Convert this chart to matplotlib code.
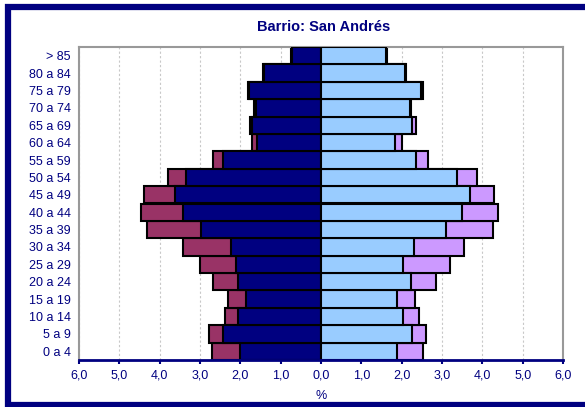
import matplotlib.pyplot as plt
import numpy as np
from matplotlib.lines import Line2D

plt.rcParams['font.family'] = ['Liberation Sans', 'DejaVu Sans']

# age groups, bottom to top
ages = ['0 a 4', '5 a 9', '10 a 14', '15 a 19', '20 a 24', '25 a 29', '30 a 34',
        '35 a 39', '40 a 44', '45 a 49', '50 a 54', '55 a 59', '60 a 64',
        '65 a 69', '70 a 74', '75 a 79', '80 a 84', '> 85']

# left side (%): total and inner part
left_total = [2.71, 2.78, 2.39, 2.31, 2.69, 3.00, 3.43, 4.31, 4.46, 4.39,
              3.79, 2.67, 1.71, 1.77, 1.66, 1.80, 1.43, 0.74]
left_inner = [2.00, 2.42, 2.05, 1.85, 2.05, 2.11, 2.23, 2.97, 3.43, 3.61,
              3.34, 2.42, 1.59, 1.70, 1.61, 1.78, 1.41, 0.72]

# right side (%): total and inner part
right_total = [2.54, 2.61, 2.43, 2.34, 2.86, 3.19, 3.54, 4.26, 4.40, 4.30,
               3.86, 2.66, 2.01, 2.35, 2.23, 2.52, 2.10, 1.64]
right_inner = [1.89, 2.26, 2.03, 1.89, 2.23, 2.04, 2.31, 3.10, 3.49, 3.69,
               3.38, 2.35, 1.83, 2.26, 2.20, 2.49, 2.08, 1.62]

xticks = [-6, -5, -4, -3, -2, -1, 0, 1, 2, 3, 4, 5, 6]
xlabels = ['6,0', '5,0', '4,0', '3,0', '2,0', '1,0', '0,0',
           '1,0', '2,0', '3,0', '4,0', '5,0', '6,0']

navy = '#000080'
y = np.arange(len(ages))

fig = plt.figure(figsize=(5.85, 4.07), dpi=100)
ax = fig.add_axes([79 / 585, 1 - 360 / 407, (563 - 79) / 585, (360 - 47) / 407])

ax.barh(y, -np.array(left_total), height=1.0, color='#993366', edgecolor='black', linewidth=1.5, zorder=2)
ax.barh(y, -np.array(left_inner), height=1.0, color='#000080', edgecolor='black', linewidth=1.5, zorder=3)
ax.barh(y, right_total, height=1.0, color='#CC99FF', edgecolor='black', linewidth=1.5, zorder=2)
ax.barh(y, right_inner, height=1.0, color='#99CCFF', edgecolor='black', linewidth=1.5, zorder=3)

ax.set_xlim(-6, 6)
ax.set_ylim(-0.5, len(ages) - 0.5)
ax.set_xticks(xticks)
ax.set_xticklabels(xlabels)
ax.set_yticks(y)
ax.set_yticklabels(ages)
ax.tick_params(axis='y', length=0, pad=6, labelsize=9, labelcolor=navy)
ax.tick_params(axis='x', direction='out', length=3, width=1.5, color=navy,
               labelsize=9, labelcolor=navy, pad=4)
ax.xaxis.grid(True, color='#c8c8c8', linestyle=(0, (2, 2)), linewidth=0.8)
ax.set_axisbelow(True)

for s in ['left', 'right', 'top']:
    ax.spines[s].set_color('#999999')
    ax.spines[s].set_linewidth(1.5)
ax.spines['bottom'].set_color(navy)
ax.spines['bottom'].set_linewidth(2)
ax.spines['bottom'].set_zorder(5)

ax.set_xlabel('%', fontsize=9, color=navy, labelpad=6)
fig.text(0.5 * (79 + 563) / 585 + 0.005, 1 - 27 / 407, 'Barrio: San Andrés', ha='center', va='center',
         fontsize=10.5, fontweight='bold', color=navy)

# outer frame of the chart: left, top and bottom edges only
x0, y0, y1 = 8 / 585, 1 - 405 / 407, 1 - 6.5 / 407
fig.lines.append(Line2D([1.0, x0, x0, 1.0], [y1, y1, y0, y0], transform=fig.transFigure,
                        color=navy, linewidth=4.5, solid_joinstyle='miter'))

fig.savefig('out.png', dpi=100)
